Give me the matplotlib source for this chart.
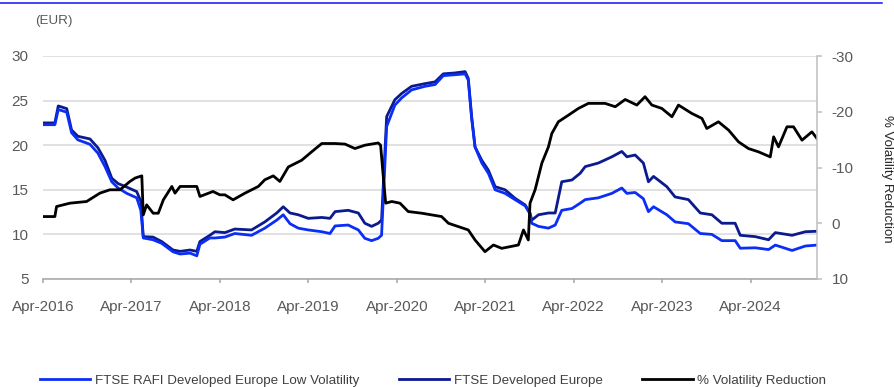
import matplotlib
matplotlib.use("Agg")
import matplotlib.pyplot as plt
import matplotlib.dates as mdates
from matplotlib.lines import Line2D
import pandas as pd

plt.rcParams['font.family'] = ['Liberation Sans', 'DejaVu Sans']
plt.rcParams['axes.unicode_minus'] = False

# Rolling volatility (EUR) of the two indices, sampled on a common date grid
index_dates = [
    "2016-04-01", "2016-05-20", "2016-06-03", "2016-07-08", "2016-07-28", "2016-08-23",
    "2016-10-12", "2016-11-14", "2016-12-13", "2017-01-10", "2017-02-05", "2017-03-13",
    "2017-04-23", "2017-05-10", "2017-05-20", "2017-06-29", "2017-08-04", "2017-09-20",
    "2017-10-19", "2017-11-29", "2017-12-27", "2018-01-09", "2018-02-19", "2018-03-12",
    "2018-04-22", "2018-06-02", "2018-08-10", "2018-10-04", "2018-11-22", "2018-12-19",
    "2019-01-16", "2019-02-19", "2019-04-01", "2019-05-27", "2019-06-30", "2019-07-21",
    "2019-09-13", "2019-10-25", "2019-11-21", "2019-12-19", "2020-01-15", "2020-01-29",
    "2020-02-19", "2020-03-24", "2020-04-21", "2020-06-01", "2020-07-26", "2020-09-06",
    "2020-10-10", "2020-11-27", "2021-01-08", "2021-01-21", "2021-02-04", "2021-02-18",
    "2021-03-18", "2021-04-14", "2021-05-12", "2021-06-22", "2021-08-02", "2021-09-13",
    "2021-10-03", "2021-10-10", "2021-11-07", "2021-12-18", "2022-01-15", "2022-02-11",
    "2022-03-25", "2022-04-28", "2022-05-19", "2022-07-12", "2022-09-06", "2022-10-17",
    "2022-11-07", "2022-12-11", "2023-01-14", "2023-02-04", "2023-02-25", "2023-04-21",
    "2023-05-25", "2023-07-19", "2023-09-06", "2023-10-24", "2023-12-04", "2024-01-28",
    "2024-02-18", "2024-04-20", "2024-06-14", "2024-07-12", "2024-09-19", "2024-11-13",
    "2024-12-31",
]

low_vol = [
    22.3, 22.3, 24.0, 23.7, 21.4, 20.6,
    20.1, 19.1, 17.6, 15.9, 15.2, 14.6,
    14.1, 12.7, 9.6, 9.4, 9.0, 8.05,
    7.8, 7.9, 7.6, 8.9, 9.6, 9.6,
    9.7, 10.1, 9.9, 10.7, 11.6, 12.2,
    11.2, 10.7, 10.5, 10.3, 10.1, 10.95,
    11.05, 10.5, 9.56, 9.3, 9.56, 9.9,
    22.1, 24.5, 25.3, 26.2, 26.6, 26.8,
    27.8, 27.9, 28.0, 27.3, 23.0, 19.8,
    18.0, 16.85, 15.0, 14.6, 13.9, 13.2,
    12.3, 11.25, 10.9, 10.7, 11.05, 12.7,
    12.9, 13.5, 13.9, 14.1, 14.6, 15.2,
    14.6, 14.7, 14.0, 12.55, 13.1, 12.2,
    11.4, 11.2, 10.1, 10.0, 9.3, 9.3,
    8.45, 8.5, 8.3, 8.8, 8.2, 8.7,
    8.8,
]

developed = [
    22.5, 22.5, 24.4, 24.1, 21.7, 21.0,
    20.7, 19.7, 18.3, 16.3, 15.7, 15.3,
    14.8, 13.7, 9.75, 9.7, 9.2, 8.25,
    8.1, 8.25, 8.1, 9.2, 9.9, 10.3,
    10.2, 10.6, 10.5, 11.4, 12.4, 13.1,
    12.4, 12.2, 11.8, 11.9, 11.8, 12.55,
    12.7, 12.4, 11.25, 10.9, 11.25, 11.6,
    23.2, 25.1, 25.8, 26.6, 26.9, 27.1,
    28.0, 28.1, 28.25, 27.5, 23.2, 19.8,
    18.3, 17.2, 15.35, 15.0, 14.05, 13.3,
    12.4, 11.6, 12.2, 12.4, 12.4, 15.9,
    16.1, 16.85, 17.6, 18.0, 18.7, 19.3,
    18.7, 18.9, 18.0, 15.9, 16.5, 15.35,
    14.2, 13.9, 12.4, 12.2, 11.25, 11.25,
    9.9, 9.75, 9.4, 10.2, 9.9, 10.3,
    10.35,
]

# Volatility reduction (%) of the low-volatility index versus the benchmark
reduction_dates = [
    "2016-04-01", "2016-05-20", "2016-05-27", "2016-07-21", "2016-09-28", "2016-11-22",
    "2017-01-02", "2017-02-13", "2017-03-26", "2017-04-16", "2017-05-14", "2017-05-20",
    "2017-06-03", "2017-06-30", "2017-07-21", "2017-08-11", "2017-09-15", "2017-09-28",
    "2017-10-19", "2017-12-27", "2018-01-09", "2018-03-04", "2018-04-01", "2018-04-22",
    "2018-05-26", "2018-07-14", "2018-09-07", "2018-10-04", "2018-11-08", "2018-12-05",
    "2019-01-09", "2019-03-05", "2019-04-15", "2019-05-27", "2019-07-21", "2019-08-31",
    "2019-10-11", "2019-11-21", "2020-01-15", "2020-01-25", "2020-02-05", "2020-02-15",
    "2020-03-11", "2020-04-14", "2020-05-18", "2020-07-13", "2020-10-03", "2020-10-31",
    "2021-01-21", "2021-02-18", "2021-03-31", "2021-05-05", "2021-06-08", "2021-08-16",
    "2021-09-06", "2021-09-26", "2021-10-03", "2021-10-24", "2021-11-21", "2021-12-18",
    "2022-01-01", "2022-01-28", "2022-03-11", "2022-04-21", "2022-06-01", "2022-08-09",
    "2022-09-20", "2022-10-31", "2022-12-18", "2023-01-21", "2023-02-18", "2023-03-31",
    "2023-05-12", "2023-06-08", "2023-08-02", "2023-09-13", "2023-10-03", "2023-11-20",
    "2024-01-01", "2024-02-11", "2024-03-23", "2024-05-04", "2024-06-21", "2024-07-05",
    "2024-07-25", "2024-08-29", "2024-09-25", "2024-10-30", "2024-12-10", "2024-12-31",
]

vol_reduction = [
    -1.2, -1.2, -3.0, -3.6, -3.9, -5.4,
    -6.0, -6.0, -7.5, -8.1, -8.5, -1.5,
    -3.3, -1.8, -1.8, -4.2, -6.6, -5.4,
    -6.6, -6.6, -4.8, -5.7, -5.1, -5.1,
    -4.2, -5.4, -6.6, -7.8, -8.5, -7.5,
    -10.1, -11.3, -12.8, -14.3, -14.3, -14.2,
    -13.4, -14.0, -14.4, -14.0, -8.4, -3.6,
    -3.9, -3.6, -2.1, -1.8, -1.2, 0.0,
    1.2, 3.0, 5.1, 3.9, 4.5, 3.9,
    1.2, 3.0, -3.6, -6.0, -10.8, -13.7,
    -16.1, -18.2, -19.4, -20.6, -21.5, -21.5,
    -20.9, -22.2, -21.2, -22.7, -21.2, -20.6,
    -19.1, -21.2, -19.7, -18.8, -17.0, -18.2,
    -16.7, -14.6, -13.4, -12.8, -11.9, -15.5,
    -13.7, -17.3, -17.3, -14.9, -16.4, -15.2,
]

left_ticks = [5, 10, 15, 20, 25, 30]
right_ticks = [-30, -20, -10, 0, 10]
year_ticks = ["2016-04-01", "2017-04-01", "2018-04-01", "2019-04-01", "2020-04-01",
              "2021-04-01", "2022-04-01", "2023-04-01", "2024-04-01"]

BLUE = "#0A2EF5"
NAVY = "#0B1A8F"
TICK_GREY = "#595959"
GRID_GREY = "#D9D9D9"
SPINE_GREY = "#A6A6A6"

fig = plt.figure(figsize=(8.95, 3.87), dpi=100)
ax = fig.add_axes([43 / 895, 1 - 279 / 387, (817 - 43) / 895, (279 - 56) / 387])

idx = pd.to_datetime(index_dates)
red_idx = pd.to_datetime(reduction_dates)

h_dev, = ax.plot(idx, developed, color=NAVY, lw=2.0, solid_joinstyle="round", zorder=3)
h_low, = ax.plot(idx, low_vol, color=BLUE, lw=2.0, solid_joinstyle="round", zorder=4)

ax.set_ylim(5, 30)
ax.set_yticks(left_ticks)
ax.set_xlim(pd.Timestamp("2016-04-01"), pd.Timestamp("2024-12-31"))
ax.set_xticks(pd.to_datetime(year_ticks))
ax.xaxis.set_major_formatter(mdates.DateFormatter("%b-%Y"))
ax.yaxis.grid(True, color=GRID_GREY, lw=1.1)
ax.set_axisbelow(True)
for s in ("left", "top", "right"):
    ax.spines[s].set_visible(False)
ax.spines["bottom"].set_color(SPINE_GREY)
ax.spines["bottom"].set_linewidth(1.1)
ax.tick_params(axis="y", length=0, pad=10.5, labelsize=11, labelcolor=TICK_GREY)
ax.tick_params(axis="x", length=3, width=1.1, color=SPINE_GREY, pad=12,
               labelsize=11, labelcolor=TICK_GREY)

ax2 = ax.twinx()
h_red, = ax2.plot(red_idx, vol_reduction, color="black", lw=2.0, solid_joinstyle="round")
ax2.set_ylim(10, -30)
ax2.set_yticks(right_ticks)
for s in ("left", "top", "bottom"):
    ax2.spines[s].set_visible(False)
ax2.spines["right"].set_color("#BFBFBF")
ax2.spines["right"].set_linewidth(1.1)
ax2.tick_params(axis="y", length=3.6, width=1.1, color="#BFBFBF", pad=7,
                labelsize=11, labelcolor=TICK_GREY)

# Secondary axis title, written top to bottom along the right edge
fig.text(887 / 895, 1 - 179 / 387, "% Volatility Reduction", rotation=270,
         fontsize=9.5, color="#262626", ha="center", va="center")

fig.text(35 / 895, 1 - 21 / 387, "(EUR)", fontsize=9.6, color=TICK_GREY,
         ha="left", va="center")

fig.add_artist(Line2D([0, 0.985], [1 - 3 / 387, 1 - 3 / 387], color="#1010FF",
                      lw=1.1, transform=fig.transFigure))

fig.legend([h_low, h_dev, h_red],
           ["FTSE RAFI Developed Europe Low Volatility", "FTSE Developed Europe",
            "% Volatility Reduction"],
           loc="center", bbox_to_anchor=(433 / 895, 1 - 381 / 387), ncol=3,
           frameon=False, fontsize=9.6, handlelength=3.8, handletextpad=0.35,
           columnspacing=2.95, labelcolor="#404040")

fig.savefig("out.png", dpi=100)
